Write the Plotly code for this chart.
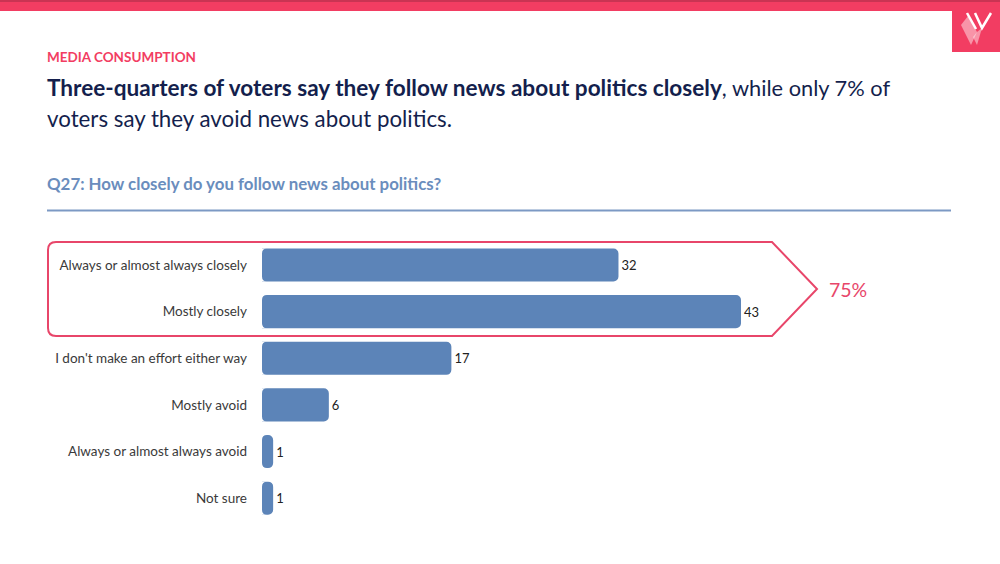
import plotly.graph_objects as go

categories = ["Always or almost always closely", "Mostly closely", "I don't make an effort either way",
              "Mostly avoid", "Always or almost always avoid", "Not sure"]
values = [32, 43, 17, 6, 1, 1]
callout_label = "75%"
kicker = "MEDIA CONSUMPTION"
title_bold = "Three-quarters of voters say they follow news about politics closely"
title_rest_1 = ", while only 7% of"
title_rest_2 = "voters say they avoid news about politics."
question = "Q27: How closely do you follow news about politics?"

W, H = 1000, 564
PINK = "#f23d62"
CALL = "#e8466a"
NAVY = "#141f4d"
BLUE = "#5c84b8"
FONT = "Lato"
BARGAP = 0.29

def px(x):
    return x / W

def py(y):
    return 1 - y / H

def path(points, close=True, **kw):
    d = "M" + " L".join(f"{px(x):.5f},{py(y):.5f}" for x, y in points) + (" Z" if close else "")
    return dict(type="path", xref="paper", yref="paper", path=d, **kw)

def text(x, y, s, size, color, anchor="left", yanchor="middle"):
    return dict(xref="paper", yref="paper", x=px(x), y=py(y), text=s, showarrow=False,
                xanchor=anchor, yanchor=yanchor, font=dict(family=FONT, size=size, color=color),
                borderpad=0, borderwidth=0)

fig = go.Figure(go.Bar(
    y=list(range(len(categories))), x=values, orientation="h", marker=dict(color=BLUE, line=dict(width=0)),
    text=values, textposition="outside", cliponaxis=False,
    textfont=dict(family=FONT, size=13, color="#222222"),
    hoverinfo="skip",
))

shapes = [
    dict(type="rect", xref="paper", yref="paper", x0=0, x1=1, y0=py(11), y1=1,
         fillcolor=PINK, line_width=0, layer="below"),
    dict(type="rect", xref="paper", yref="paper", x0=0, x1=1, y0=py(2), y1=1,
         fillcolor="#c93453", line_width=0, layer="below"),
    dict(type="rect", xref="paper", yref="paper", x0=px(952), x1=1, y0=py(52), y1=py(2),
         fillcolor=PINK, line_width=0, layer="below"),
    dict(type="line", xref="paper", yref="paper", x0=px(47), x1=px(951), y0=py(210.5), y1=py(210.5),
         line=dict(color="#7c99c4", width=2)),
    # callout outline
    dict(type="path", xref="paper", yref="paper",
         path=(f"M{px(56):.5f},{py(242):.5f} L{px(772):.5f},{py(242):.5f} "
               f"L{px(817):.5f},{py(289):.5f} L{px(772):.5f},{py(336):.5f} "
               f"L{px(56):.5f},{py(336):.5f} Q{px(48):.5f},{py(336):.5f} {px(48):.5f},{py(328):.5f} "
               f"L{px(48):.5f},{py(250):.5f} Q{px(48):.5f},{py(242):.5f} {px(56):.5f},{py(242):.5f} Z"),
         line=dict(color=CALL, width=2), fillcolor="rgba(0,0,0,0)"),
    # logo
    path([(968, 16), (961, 25), (971, 45), (977, 32)], fillcolor="rgba(255,255,255,0.45)", line_width=0),
    path([(977, 32), (982, 28), (977, 45), (973, 37)], fillcolor="rgba(255,255,255,0.45)", line_width=0),
    path([(967, 13), (976, 29)], close=False, line=dict(color="white", width=2.5)),
    path([(975, 13), (982, 28), (991, 13)], close=False, line=dict(color="white", width=2.5)),
]

# Round the base-side corners of the bars with small white corner masks
rx = 5 / 11.14
ry = 5 / 46.6
half = (1 - BARGAP) / 2
for i in range(len(values)):
    for sign in (-1, 1):
        y0 = i + sign * half
        y1 = y0 - sign * ry
        shapes.append(dict(type="path", xref="x", yref="y", line_width=0, fillcolor="white", layer="above",
                           path=f"M0,{y0:.4f} L{rx:.4f},{y0:.4f} Q0,{y0:.4f} 0,{y1:.4f} Z"))

annotations = [
    text(47, 57, f"<b>{kicker}</b>", 13.5, PINK),
    text(47, 87.5, f"<span style='font-size:22.6px'><b>{title_bold}</b></span>{title_rest_1}", 21.8, NAVY),
    text(47, 118, title_rest_2, 22.3, NAVY),
    text(47, 183.5, f"<b>{question}</b>", 16.85, "#6a8dbd"),
    text(829, 289, callout_label, 19.5, CALL),
]

fig.update_layout(
    width=W, height=H, margin=dict(l=0, r=0, t=0, b=0), autosize=False,
    paper_bgcolor="white", plot_bgcolor="white", showlegend=False,
    bargap=BARGAP, barcornerradius=5,
    xaxis=dict(domain=[px(262), px(951)], range=[0, 61.85], visible=False),
    yaxis=dict(domain=[py(521.5), py(241.7)], range=[5.5, -0.5], showgrid=False, zeroline=False,
               showline=False, ticks="", ticklabelstandoff=14,
               tickmode="array", tickvals=list(range(len(categories))), ticktext=categories,
               tickfont=dict(family=FONT, size=13.5, color="#3a3a3a")),
    shapes=shapes, annotations=annotations,
)

fig.write_html("out.html", config={"displayModeBar": False},
               post_script="document.body.style.margin='0';")
